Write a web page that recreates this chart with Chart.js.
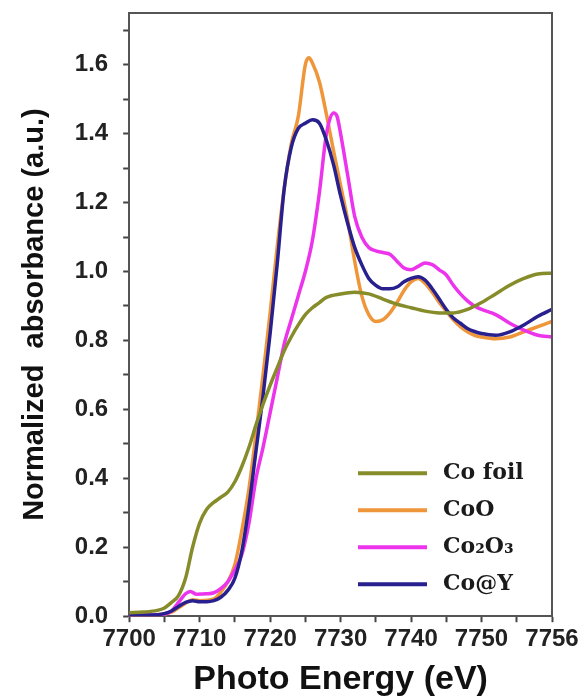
<!DOCTYPE html>
<html>
<head>
<meta charset="utf-8">
<script src="https://cdn.jsdelivr.net/npm/chart.js@4.4.0/dist/chart.umd.min.js"></script>
<style>
  body { margin: 0; background: #fff; }
</style>
</head>
<body>
<canvas id="myChart" width="582" height="698"></canvas>
<script>
// values (energy in eV, normalized absorbance)
const seriesLabels = ['Co foil', 'CoO', 'Co\u2082O\u2083', 'Co@Y'];
const seriesColors = ['rgb(134,140,42)', 'rgb(240,150,58)', 'rgb(236,52,236)', 'rgb(40,32,142)'];

const energyFoil = [7700, 7702, 7704, 7705, 7706, 7707, 7708, 7709, 7710, 7711, 7712, 7713, 7714, 7715, 7716, 7717, 7718, 7719, 7720, 7721, 7722, 7723, 7724, 7725, 7726, 7727, 7728, 7730, 7732, 7734, 7736, 7738, 7740, 7742, 7744, 7746, 7748, 7750, 7752, 7754, 7756, 7758, 7760];
const coFoil     = [0.01, 0.012, 0.017, 0.024, 0.04, 0.06, 0.11, 0.2, 0.27, 0.31, 0.33, 0.345, 0.36, 0.39, 0.435, 0.49, 0.555, 0.615, 0.67, 0.72, 0.77, 0.81, 0.845, 0.875, 0.895, 0.91, 0.925, 0.935, 0.94, 0.935, 0.92, 0.905, 0.895, 0.885, 0.88, 0.88, 0.89, 0.91, 0.935, 0.96, 0.98, 0.993, 0.995];

const energyCoO = [7700, 7704, 7706, 7708, 7709, 7710, 7712, 7713, 7714, 7715, 7716, 7717, 7718, 7719, 7720, 7721, 7722, 7723, 7724, 7725, 7725.5, 7726, 7727, 7728, 7729, 7730, 7731, 7732, 7733, 7734, 7735, 7736, 7737, 7738, 7739, 7740, 7741, 7742, 7743, 7744, 7745, 7746, 7747, 7748, 7749, 7750, 7752, 7754, 7756, 7758, 7760];
const coO       = [0.003, 0.004, 0.012, 0.038, 0.048, 0.045, 0.05, 0.07, 0.1, 0.15, 0.25, 0.37, 0.53, 0.7, 0.88, 1.07, 1.24, 1.37, 1.45, 1.6, 1.62, 1.605, 1.55, 1.455, 1.35, 1.25, 1.15, 1.03, 0.93, 0.875, 0.855, 0.86, 0.88, 0.91, 0.945, 0.97, 0.98, 0.965, 0.94, 0.91, 0.885, 0.86, 0.84, 0.825, 0.815, 0.81, 0.805, 0.81, 0.825, 0.84, 0.855];

const energyCo2O3 = [7700, 7704, 7706, 7707, 7708, 7708.7, 7709.5, 7711, 7712, 7713, 7714, 7715, 7716, 7717, 7718, 7719, 7720, 7721, 7722, 7723, 7724, 7725, 7726, 7727, 7728, 7729, 7729.5, 7730, 7731, 7732, 7733, 7734, 7735, 7736, 7737, 7738, 7739, 7740, 7741, 7742, 7743, 7744, 7745, 7746, 7747, 7748, 7749, 7750, 7752, 7754, 7756, 7758, 7760];
const co2O3       = [0.003, 0.004, 0.015, 0.04, 0.065, 0.072, 0.064, 0.065, 0.068, 0.08, 0.1, 0.135, 0.18, 0.27, 0.4, 0.49, 0.59, 0.69, 0.79, 0.86, 0.93, 1.0, 1.09, 1.23, 1.4, 1.46, 1.45, 1.4, 1.28, 1.16, 1.1, 1.07, 1.06, 1.055, 1.05, 1.03, 1.01, 1.005, 1.015, 1.025, 1.02, 1.005, 0.99, 0.96, 0.935, 0.915, 0.9, 0.89, 0.875, 0.85, 0.83, 0.815, 0.81];

const energyCoY = [7700, 7704, 7706, 7707, 7708, 7709, 7710, 7711, 7712, 7713, 7714, 7715, 7716, 7717, 7718, 7719, 7720, 7721, 7722, 7723, 7724, 7725, 7726, 7727, 7728, 7729, 7730, 7731, 7732, 7733, 7734, 7735, 7736, 7737, 7738, 7739, 7740, 7741, 7742, 7743, 7744, 7745, 7746, 7747, 7748, 7749, 7750, 7752, 7754, 7756, 7758, 7760];
const coY       = [0.003, 0.004, 0.015, 0.028, 0.04, 0.045, 0.042, 0.042, 0.045, 0.055, 0.075, 0.11, 0.19, 0.32, 0.48, 0.64, 0.82, 1.02, 1.24, 1.36, 1.415, 1.43, 1.44, 1.43, 1.38, 1.31, 1.22, 1.14, 1.07, 1.02, 0.98, 0.96, 0.95, 0.95, 0.955, 0.97, 0.98, 0.985, 0.975, 0.95, 0.92, 0.89, 0.865, 0.85, 0.835, 0.826, 0.82, 0.815, 0.825, 0.845, 0.87, 0.89];

const xTickLabels = ['7700', '7710', '7720', '7730', '7740', '7750', '7756'];
const yTickLabels = ['0.0', '0.2', '0.4', '0.6', '0.8', '1.0', '1.2', '1.4', '1.6'];

function toPoints(xs, ys) {
  return xs.map((x, i) => ({ x: x, y: ys[i] }));
}

const allX = [energyFoil, energyCoO, energyCo2O3, energyCoY];
const allY = [coFoil, coO, co2O3, coY];
const drawOrder = [0, 3, 2, 1];

const datasets = seriesLabels.map((lab, i) => ({
  label: lab,
  data: toPoints(allX[i], allY[i]),
  borderColor: seriesColors[i],
  backgroundColor: seriesColors[i],
  borderWidth: 3.5,
  pointRadius: 0,
  tension: 0.4,
  cubicInterpolationMode: 'monotone',
  order: drawOrder[i]
}));

// frame on top and right + legend inside the plot
const framePlugin = {
  id: 'frame',
  afterDraw(chart) {
    const c = chart.ctx;
    const a = chart.chartArea;
    c.save();
    c.strokeStyle = '#555';
    c.lineWidth = 2;
    c.beginPath();
    c.moveTo(a.left, a.top);
    c.lineTo(a.right, a.top);
    c.lineTo(a.right, a.bottom);
    c.stroke();

    c.font = "bold 22px 'DejaVu Serif'";
    c.textBaseline = 'middle';
    c.textAlign = 'left';
    chart.data.datasets.forEach((ds, i) => {
      const y = a.bottom - 143 + i * 37;
      const x0 = a.right - 194;
      c.strokeStyle = ds.borderColor;
      c.lineWidth = 4;
      c.beginPath();
      c.moveTo(x0, y);
      c.lineTo(x0 + 69, y);
      c.stroke();
      c.fillStyle = '#1a1a1a';
      c.fillText(ds.label, x0 + 85, y);
    });
    c.restore();
  }
};

const ctx = document.getElementById('myChart');
new Chart(ctx, {
  type: 'line',
  data: { datasets: datasets },
  options: {
    responsive: false,
    animation: false,
    devicePixelRatio: 1,
    layout: { padding: { left: 18, top: 13, right: 30, bottom: 1 } },
    plugins: {
      legend: { display: false },
      tooltip: { enabled: false }
    },
    scales: {
      x: {
        type: 'linear',
        min: 7700,
        max: 7760,
        border: { color: '#555', width: 2 },
        grid: { drawOnChartArea: false, drawTicks: true, tickLength: 6, color: '#444', tickWidth: 2 },
        ticks: {
          stepSize: 5,
          autoSkip: false,
          maxRotation: 0,
          minRotation: 0,
          padding: 3,
          color: '#222',
          font: { family: "'Liberation Sans', Arial", size: 24, weight: 'bold' },
          callback: function (v) {
            const r = Math.round(v);
            if (r % 10 !== 0) return '';
            return xTickLabels[(r - 7700) / 10];
          }
        },
        title: {
          display: true,
          text: 'Photo Energy (eV)',
          color: '#111',
          padding: { top: 6, bottom: 0 },
          font: { family: "'Liberation Sans', Arial", size: 34, weight: 'bold', lineHeight: 1 }
        }
      },
      y: {
        min: 0,
        max: 1.75,
        afterFit: function (scale) {
          scale.paddingTop = 0;
          scale.paddingBottom = 0;
        },
        border: { color: '#555', width: 2 },
        grid: { drawOnChartArea: false, drawTicks: true, tickLength: 6, color: '#444', tickWidth: 2 },
        ticks: {
          stepSize: 0.1,
          includeBounds: false,
          autoSkip: false,
          padding: 15,
          color: '#222',
          font: { family: "'Liberation Sans', Arial", size: 24, weight: 'bold' },
          callback: function (v) {
            const k = Math.round(v * 10);
            if (Math.abs(v * 10 - k) > 1e-6 || k % 2 !== 0) return '';
            return yTickLabels[k / 2];
          }
        },
        title: {
          display: true,
          text: 'Normalized  absorbance (a.u.)',
          color: '#111',
          padding: { top: 0, bottom: 7 },
          font: { family: "'Liberation Sans', Arial", size: 29, weight: 'bold' }
        }
      }
    }
  },
  plugins: [framePlugin]
});
</script>
</body>
</html>
